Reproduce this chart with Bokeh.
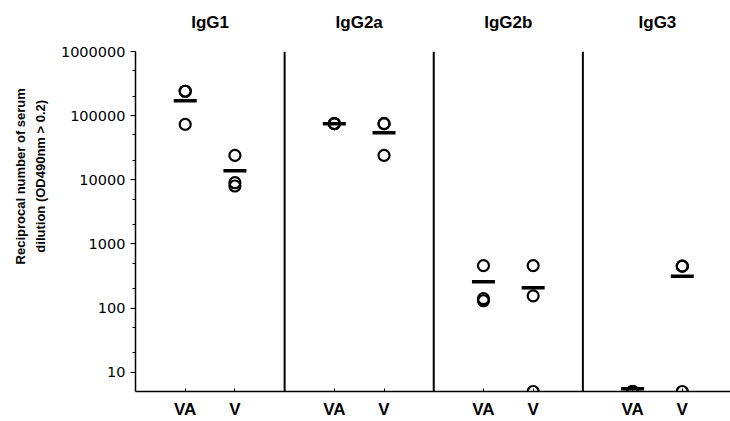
from bokeh.plotting import figure
from bokeh.models import (FixedTicker, Span, NumeralTickFormatter, LinearAxis,
                          LinearScale, ColumnDataSource, Range1d)
from bokeh.embed import file_html
from bokeh.resources import INLINE

# ---- data ----
groups = ["IgG1", "IgG2a", "IgG2b", "IgG3"]
categories = ["VA", "V"]
va_points = [[240000, 240000, 73000], [75000, 75000, 75000], [460, 140, 130], [5, 5, 5]]
v_points = [[24000, 9000, 8000], [75000, 75000, 24000], [460, 155, 5], [450, 450, 5]]
va_means = [171000, 75000, 258, 5.5]
v_means = [13800, 54000, 208, 314]
y_ticks = [10, 100, 1000, 10000, 100000, 1000000]
y_label_lines = ["Reciprocal number of serum", "dilution (OD490nm > 0.2)"]

# ---- layout helpers ----
slot = 3  # each group panel spans 3 x-units; VA at +1, V at +2
xs, ys = [], []
mx, my = [], []
for gi, g in enumerate(groups):
    for ci, (pts, mean) in enumerate(((va_points[gi], va_means[gi]), (v_points[gi], v_means[gi]))):
        xpos = gi * slot + 1 + ci
        for v in pts:
            xs.append(xpos)
            ys.append(v)
        mx.append(xpos)
        my.append(mean)

pts_src = ColumnDataSource(dict(x=xs, y=ys))
mean_src = ColumnDataSource(dict(x=mx, y=my))

p = figure(width=730, height=421, y_axis_type="log",
           x_range=Range1d(0, 11.97), y_range=Range1d(5, 1e6),
           output_backend="svg", toolbar_location=None,
           min_border_left=135, min_border_right=0,
           min_border_top=51, min_border_bottom=29)
p.outline_line_color = None
p.xgrid.visible = False
p.ygrid.visible = False
p.background_fill_color = "white"

# y axis
minor = [m * 10 ** e for e in range(1, 6) for m in (2, 5)]
p.yaxis.ticker = FixedTicker(ticks=y_ticks, minor_ticks=minor)
p.yaxis.formatter = NumeralTickFormatter(format="0")
p.yaxis.major_tick_in = 0
p.yaxis.major_tick_out = 5
p.yaxis.minor_tick_in = 0
p.yaxis.minor_tick_out = 3
p.yaxis.axis_line_width = 1.5
p.yaxis.major_tick_line_width = 1.2
p.yaxis.major_label_text_font = "DejaVu Sans"
p.yaxis.major_label_text_font_size = "14.5px"
p.yaxis.major_label_text_color = "black"
p.yaxis.major_label_standoff = 5

# x axis
xticks = []
overrides = {}
for gi in range(len(groups)):
    for ci, c in enumerate(categories):
        t = gi * slot + 1 + ci
        xticks.append(t)
        overrides[t] = c
p.xaxis.ticker = FixedTicker(ticks=xticks)
p.xaxis.major_label_overrides = overrides
p.xaxis.major_tick_in = 3
p.xaxis.major_tick_out = 0
p.xaxis.minor_tick_line_color = None
p.xaxis.axis_line_width = 1.5
p.xaxis.major_label_text_font = "Liberation Sans"
p.xaxis.major_label_text_font_style = "bold"
p.xaxis.major_label_text_font_size = "17px"
p.xaxis.major_label_text_color = "black"
p.xaxis.major_label_standoff = 8

# panel titles as an axis above
title_ticks = [gi * slot + 1.5 for gi in range(len(groups))]
top = LinearAxis(ticker=FixedTicker(ticks=title_ticks),
                 major_label_overrides={t: g for t, g in zip(title_ticks, groups)},
                 axis_line_color=None, major_tick_line_color=None,
                 minor_tick_line_color=None,
                 major_label_text_font="Liberation Sans",
                 major_label_text_font_style="bold",
                 major_label_text_font_size="17px",
                 major_label_text_color="black",
                 major_label_standoff=14)
p.add_layout(top, "above")

# y axis title: two extra left axes, one label each
p.extra_y_ranges = {"lab": Range1d(0, 1)}
p.extra_y_scales = {"lab": LinearScale()}
label_pos = 0.633
standoffs = [3, -4]
for line, so in zip(reversed(y_label_lines), standoffs):
    ax = LinearAxis(y_range_name="lab", ticker=FixedTicker(ticks=[label_pos]),
                    major_label_overrides={label_pos: line},
                    major_label_orientation="vertical",
                    axis_line_color=None, major_tick_line_color=None,
                    minor_tick_line_color=None,
                    major_label_text_font="Liberation Sans",
                    major_label_text_font_style="bold",
                    major_label_text_font_size="13px",
                    major_label_text_color="black",
                    major_label_standoff=so)
    p.add_layout(ax, "left")

# panel separators
for gi in range(1, len(groups)):
    p.add_layout(Span(location=gi * slot, dimension="height",
                      line_color="black", line_width=2))

# points and means
p.scatter("x", "y", source=pts_src, marker="circle", size=11,
          fill_color=None, line_color="black", line_width=2.2)
p.rect("x", "y", source=mean_src, width=23, height=3.5,
       width_units="screen", height_units="screen",
       fill_color="black", line_color=None)

open("out.html", "w").write(file_html(p, INLINE))
